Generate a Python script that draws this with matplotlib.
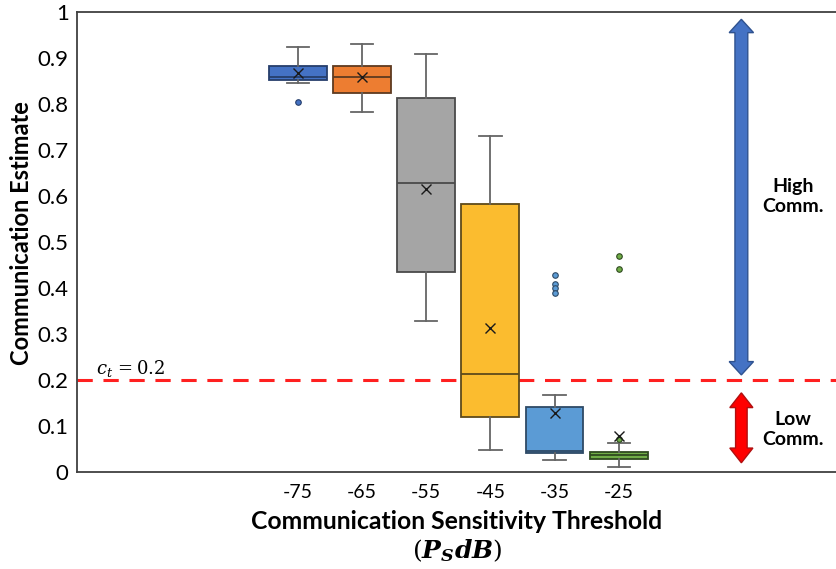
import numpy as np
import matplotlib.pyplot as plt
from matplotlib.patches import Polygon

plt.rcParams['font.family'] = ['Lato', 'DejaVu Sans']
plt.rcParams['mathtext.fontset'] = 'dejavuserif'

# Sensitivity thresholds (dB) and the box statistics for each one
thresholds = ["-75", "-65", "-55", "-45", "-35", "-25"]
medians = [0.859, 0.858, 0.628, 0.214, 0.046, 0.036]
q1 = [0.852, 0.824, 0.435, 0.120, 0.041, 0.028]
q3 = [0.882, 0.882, 0.813, 0.583, 0.141, 0.044]
whisker_lo = [0.846, 0.782, 0.328, 0.048, 0.025, 0.010]
whisker_hi = [0.924, 0.931, 0.908, 0.731, 0.167, 0.064]
means = [0.868, 0.858, 0.615, 0.312, 0.128, 0.078]
outliers = [[0.804], [], [], [], [0.428, 0.409, 0.399, 0.388], [0.469, 0.441, 0.071]]

fills = ["#4472C4", "#ED7D31", "#A5A5A5", "#FBBC2F", "#5B9BD5", "#70AD47"]
edges = ["#263E6B", "#5E3A20", "#4A4A4A", "#5E4A1A", "#2E4A66", "#2F4A20"]

ct = 0.2

fig = plt.figure(figsize=(8.37, 5.69), dpi=100)
ax = fig.add_axes([0.092, 0.1705, 0.908, 0.8085])

positions = np.arange(len(thresholds))
stats = []
for i in range(len(thresholds)):
    stats.append(dict(med=medians[i], q1=q1[i], q3=q3[i], whislo=whisker_lo[i],
                      whishi=whisker_hi[i], mean=means[i], fliers=outliers[i]))

for i, st in enumerate(stats):
    ax.bxp([st], positions=[positions[i]], widths=0.9, patch_artist=True,
           showmeans=True, showcaps=True,
           boxprops=dict(facecolor=fills[i], edgecolor=edges[i], linewidth=1.3),
           medianprops=dict(color=edges[i], linewidth=1.3),
           whiskerprops=dict(color="#666666", linewidth=1.3),
           capprops=dict(color="#666666", linewidth=1.3),
           capwidths=0.35,
           meanprops=dict(marker="x", markeredgecolor="#1A1A1A", markersize=7,
                          markeredgewidth=1.0),
           flierprops=dict(marker="o", markerfacecolor=fills[i],
                           markeredgecolor=edges[i], markersize=4,
                           markeredgewidth=0.8))

# threshold line
ax.axhline(ct, color="#FF2020", linestyle=(0, (5, 3.5)), linewidth=2.2, zorder=1)
ax.text(-3.14, ct + 0.012, r"$c_t\,=0.2$", fontsize=13)


def double_arrow(x, y0, y1, half_shaft, half_head, head_len, fc, ec):
    pts = [(x, y1), (x + half_head, y1 - head_len), (x + half_shaft, y1 - head_len),
           (x + half_shaft, y0 + head_len), (x + half_head, y0 + head_len), (x, y0),
           (x - half_head, y0 + head_len), (x - half_shaft, y0 + head_len),
           (x - half_shaft, y1 - head_len), (x - half_head, y1 - head_len)]
    ax.add_patch(Polygon(pts, closed=True, facecolor=fc, edgecolor=ec,
                         linewidth=1.0, zorder=3))


double_arrow(6.91, 0.211, 0.984, 0.10, 0.19, 0.029, "#4472C4", "#2F528F")
double_arrow(6.91, 0.020, 0.172, 0.09, 0.18, 0.032, "#FF0000", "#B01010")
ax.text(7.71, 0.598, "High\nComm.", ha="center", va="center", fontsize=14,
        fontweight="bold", linespacing=1.2)
ax.text(7.71, 0.092, "Low\nComm.", ha="center", va="center", fontsize=14,
        fontweight="bold", linespacing=1.2)

ax.set_xlim(-3.44, 8.40)
ax.set_ylim(0, 1)
ax.set_xticks(positions)
ax.set_xticklabels(thresholds, fontsize=14)
ax.set_yticks(np.arange(0, 1.01, 0.1))
ax.set_yticklabels(["0", "0.1", "0.2", "0.3", "0.4", "0.5", "0.6", "0.7", "0.8",
                    "0.9", "1"], fontsize=16)
ax.tick_params(axis="x", length=0, pad=9)
ax.tick_params(axis="y", length=0, pad=6)

for side in ["left", "bottom", "top"]:
    ax.spines[side].set_color("#404040")
    ax.spines[side].set_linewidth(1.3)
ax.spines["right"].set_visible(False)

ax.set_ylabel("Communication Estimate", fontsize=17, fontweight="bold")
ax.yaxis.set_label_coords(-0.058, 0.52)
fig.text(0.546, 0.084, "Communication Sensitivity Threshold", ha="center",
         va="center", fontsize=17.8, fontweight="bold")
fig.text(0.546, 0.033, r"$(\mathbfit{P_S dB})$", ha="center", va="center",
         fontsize=18)

fig.savefig("out.png", dpi=100)
